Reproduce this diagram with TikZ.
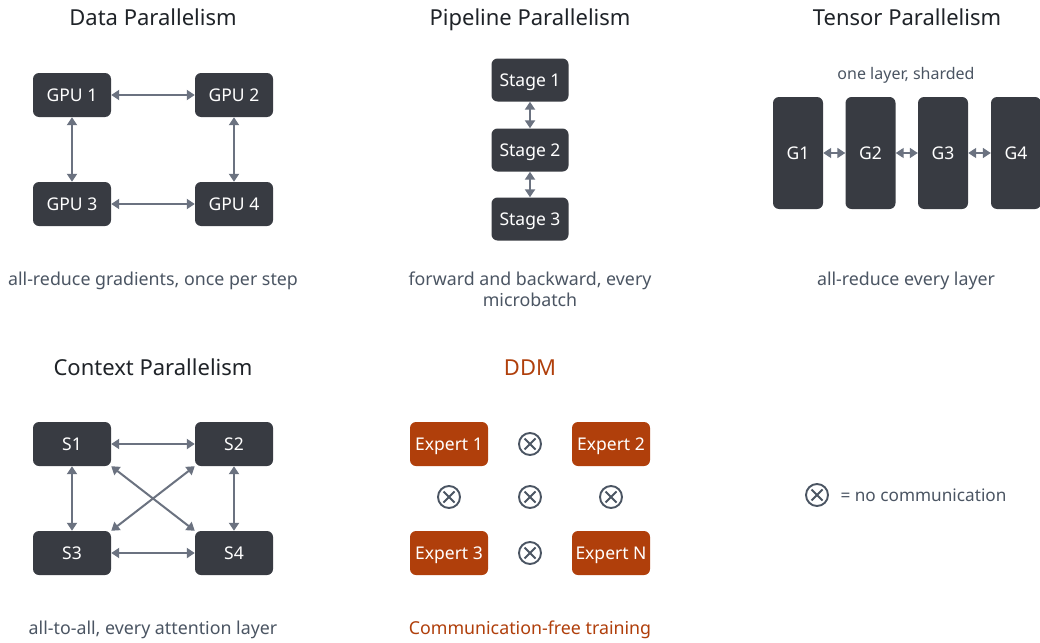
\documentclass[tikz,border=0pt]{standalone}
\usepackage{fontspec}
\setmainfont{Noto Sans}
\usetikzlibrary{arrows.meta}
\definecolor{boxdark}{HTML}{383B42}
\definecolor{linkgray}{HTML}{6B7280}
\definecolor{titleink}{HTML}{1F2328}
\definecolor{noteink}{HTML}{4B5563}
\definecolor{rust}{HTML}{B03F0B}
\tikzset{
  gpubox/.style={fill=boxdark, rounded corners=6pt, minimum width=78pt, minimum height=44pt,
    text=white, font=\fontsize{17.5}{20}\selectfont, inner sep=0pt,
    text height=13.5pt, text depth=0pt},
  stagebox/.style={gpubox, minimum width=77pt, minimum height=43pt},
  shardbox/.style={gpubox, minimum width=50pt, minimum height=112pt},
  expertbox/.style={gpubox, fill=rust},
  paneltitle/.style={text=titleink, font=\fontsize{22}{26}\selectfont, anchor=base},
  note/.style={text=noteink, font=\fontsize{17.8}{20.5}\selectfont, align=center, anchor=base},
  link/.style={draw=linkgray, line width=2pt, {Triangle[length=8pt,width=10pt]}-{Triangle[length=8pt,width=10pt]}},
  shortlink/.style={draw=linkgray, line width=1.5pt, {Triangle[length=8pt,width=10pt]}-{Triangle[length=8pt,width=10pt]}},
  nocomm/.style={circle, draw=noteink, line width=1.9pt, minimum size=22pt, inner sep=0pt,
    path picture={\draw[noteink, line width=1.9pt]
      ([shift={(-5.5pt,-5.5pt)}]path picture bounding box.center) -- ([shift={(5.5pt,5.5pt)}]path picture bounding box.center)
      ([shift={(-5.5pt,5.5pt)}]path picture bounding box.center) -- ([shift={(5.5pt,-5.5pt)}]path picture bounding box.center);}},
}
\begin{document}
\begin{tikzpicture}[x=1pt, y=-1pt]
\useasboundingbox[fill=white] (0,0) rectangle (1040,642);

% Data parallelism
\node[paneltitle] (dpt) at (153,26) {Data Parallelism};
\node[gpubox] (g1) at (72,95) {GPU 1};
\node[gpubox] (g2) at (234,95) {GPU 2};
\node[gpubox] (g3) at (72,204) {GPU 3};
\node[gpubox] (g4) at (234,204) {GPU 4};
\draw[link] (g1) -- (g2);
\draw[link] (g3) -- (g4);
\draw[link] (g1) -- (g3);
\draw[link] (g2) -- (g4);
\node[note] (dpn) at (153,285) {all-reduce gradients, once per step};

% Pipeline parallelism
\node[paneltitle] (ppt) at (530,26) {Pipeline Parallelism};
\node[stagebox] (s1) at (530,80) {Stage 1};
\node[stagebox] (s2) at (530,150) {Stage 2};
\node[stagebox] (s3) at (530,219) {Stage 3};
\draw[link] (s1) -- (s2);
\draw[link] (s2) -- (s3);
\node[note, anchor=north] (ppn) at (530,268.5) {forward and backward, every\\microbatch};

% Tensor parallelism
\node[paneltitle] (tpt) at (907,26) {Tensor Parallelism};
\node[note, font=\fontsize{16}{19}\selectfont] (tps) at (906,79) {one layer, sharded};
\node[shardbox] (t1) at (798,153) {G1};
\node[shardbox] (t2) at (870.5,153) {G2};
\node[shardbox] (t3) at (943,153) {G3};
\node[shardbox] (t4) at (1016,153) {G4};
\draw[shortlink] (t1) -- (t2);
\draw[shortlink] (t2) -- (t3);
\draw[shortlink] (t3) -- (t4);
\node[note] (tpn) at (906,285) {all-reduce every layer};

% Context parallelism
\node[paneltitle] (cpt) at (153,375) {Context Parallelism};
\node[gpubox] (c1) at (72,444) {S1};
\node[gpubox] (c2) at (234,444) {S2};
\node[gpubox] (c3) at (72,553) {S3};
\node[gpubox] (c4) at (234,553) {S4};
\draw[link] (c1) -- (c2);
\draw[link] (c3) -- (c4);
\draw[link] (c1) -- (c3);
\draw[link] (c2) -- (c4);
\draw[link] (c1.south east) -- (c4.north west);
\draw[link] (c2.south west) -- (c3.north east);
\node[note] (cpn) at (153,634) {all-to-all, every attention layer};

% DDM
\node[paneltitle, text=rust] (ddt) at (530,375) {DDM};
\node[expertbox] (e1) at (449,444) {Expert 1};
\node[expertbox] (e2) at (611,444) {Expert 2};
\node[expertbox] (e3) at (449,553) {Expert 3};
\node[expertbox] (e4) at (611,553) {Expert N};
\node[nocomm] (x12) at (530,444) {};
\node[nocomm] (x13) at (449,497) {};
\node[nocomm] (xmid) at (530,497) {};
\node[nocomm] (x24) at (611,497) {};
\node[nocomm] (x34) at (530,553) {};
\node[note, text=rust] (ddn) at (530,634) {Communication-free training};

% Legend
\node[nocomm] (lgx) at (817,495) {};
\node[note, anchor=base west, font=\fontsize{17.2}{20}\selectfont] (lgt) at (837,501) {= no communication};
\end{tikzpicture}
\end{document}
